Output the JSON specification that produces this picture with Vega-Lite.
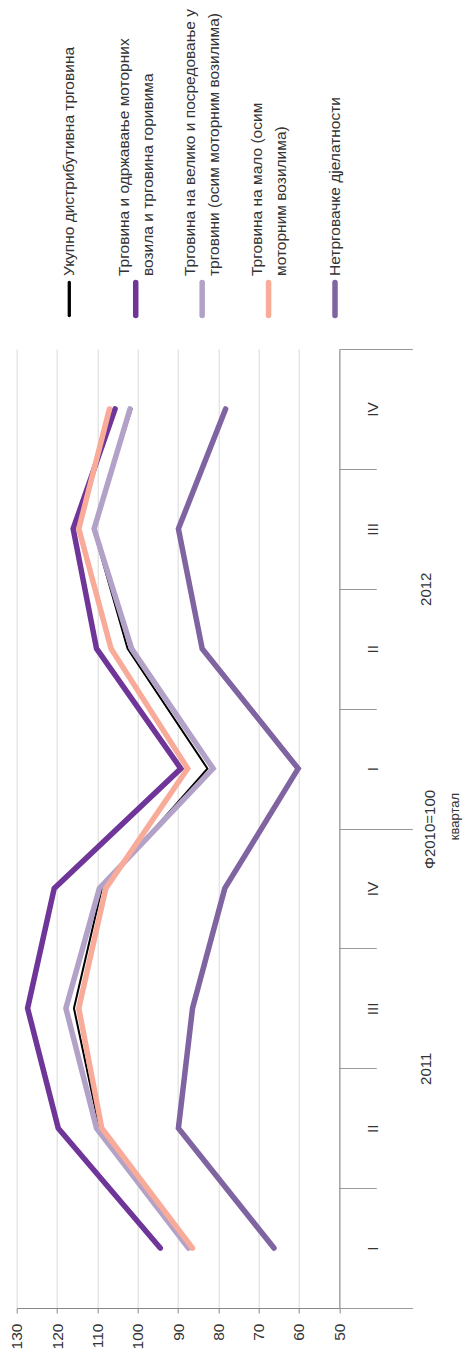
{
  "$schema": "https://vega.github.io/schema/vega-lite/v6.json",
  "autosize": {"type": "none"},
  "padding": {"left": 16.7, "top": 349, "right": 125.7, "bottom": 43},
  "background": "white",
  "width": 322.6,
  "height": 959,
  "config": {"view": {"stroke": null}, "font": "Liberation Sans"},
  "datasets": {
    "legend": [
      {"s": "Укупно дистрибутивна трговина", "lines": ["Укупно дистрибутивна трговина"]},
      {"s": "Трговина и одржавање моторних возила и трговина горивима", "lines": ["Трговина и одржавање моторних", "возила и трговина горивима"]},
      {"s": "Трговина на велико и посредовање у трговини (осим моторним возилима)", "lines": ["Трговина на велико и посредовање у", "трговини (осим моторним возилима)"]},
      {"s": "Трговина на мало (осим моторним возилима)", "lines": ["Трговина на мало (осим", "моторним возилима)"]},
      {"s": "Нетрговачке дјелатности", "lines": ["Нетрговачке дјелатности"]}
    ],
    "years": [{"year": "2011"}, {"year": "2012"}],
    "series": [
      {"s": "Укупно дистрибутивна трговина", "p": "2011 I", "v": 87.0},
      {"s": "Укупно дистрибутивна трговина", "p": "2011 II", "v": 109.5},
      {"s": "Укупно дистрибутивна трговина", "p": "2011 III", "v": 115.8},
      {"s": "Укупно дистрибутивна трговина", "p": "2011 IV", "v": 108.9},
      {"s": "Укупно дистрибутивна трговина", "p": "2012 I", "v": 82.7},
      {"s": "Укупно дистрибутивна трговина", "p": "2012 II", "v": 102.5},
      {"s": "Укупно дистрибутивна трговина", "p": "2012 III", "v": 111.0},
      {"s": "Укупно дистрибутивна трговина", "p": "2012 IV", "v": 101.5},
      {"s": "Трговина и одржавање моторних возила и трговина горивима", "p": "2011 I", "v": 94.4},
      {"s": "Трговина и одржавање моторних возила и трговина горивима", "p": "2011 II", "v": 119.7},
      {"s": "Трговина и одржавање моторних возила и трговина горивима", "p": "2011 III", "v": 127.3},
      {"s": "Трговина и одржавање моторних возила и трговина горивима", "p": "2011 IV", "v": 120.7},
      {"s": "Трговина и одржавање моторних возила и трговина горивима", "p": "2012 I", "v": 89.3},
      {"s": "Трговина и одржавање моторних возила и трговина горивима", "p": "2012 II", "v": 110.2},
      {"s": "Трговина и одржавање моторних возила и трговина горивима", "p": "2012 III", "v": 116.0},
      {"s": "Трговина и одржавање моторних возила и трговина горивима", "p": "2012 IV", "v": 105.6},
      {"s": "Трговина на велико и посредовање у трговини (осим моторним возилима)", "p": "2011 I", "v": 87.4},
      {"s": "Трговина на велико и посредовање у трговини (осим моторним возилима)", "p": "2011 II", "v": 110.2},
      {"s": "Трговина на велико и посредовање у трговини (осим моторним возилима)", "p": "2011 III", "v": 117.8},
      {"s": "Трговина на велико и посредовање у трговини (осим моторним возилима)", "p": "2011 IV", "v": 109.5},
      {"s": "Трговина на велико и посредовање у трговини (осим моторним возилима)", "p": "2012 I", "v": 81.3},
      {"s": "Трговина на велико и посредовање у трговини (осим моторним возилима)", "p": "2012 II", "v": 101.5},
      {"s": "Трговина на велико и посредовање у трговини (осим моторним возилима)", "p": "2012 III", "v": 110.8},
      {"s": "Трговина на велико и посредовање у трговини (осим моторним возилима)", "p": "2012 IV", "v": 101.9},
      {"s": "Трговина на мало (осим моторним возилима)", "p": "2011 I", "v": 86.4},
      {"s": "Трговина на мало (осим моторним возилима)", "p": "2011 II", "v": 108.9},
      {"s": "Трговина на мало (осим моторним возилима)", "p": "2011 III", "v": 114.6},
      {"s": "Трговина на мало (осим моторним возилима)", "p": "2011 IV", "v": 107.9},
      {"s": "Трговина на мало (осим моторним возилима)", "p": "2012 I", "v": 87.6},
      {"s": "Трговина на мало (осим моторним возилима)", "p": "2012 II", "v": 106.6},
      {"s": "Трговина на мало (осим моторним возилима)", "p": "2012 III", "v": 114.6},
      {"s": "Трговина на мало (осим моторним возилима)", "p": "2012 IV", "v": 107.0},
      {"s": "Нетрговачке дјелатности", "p": "2011 I", "v": 66.2},
      {"s": "Нетрговачке дјелатности", "p": "2011 II", "v": 89.9},
      {"s": "Нетрговачке дјелатности", "p": "2011 III", "v": 86.4},
      {"s": "Нетрговачке дјелатности", "p": "2011 IV", "v": 78.4},
      {"s": "Нетрговачке дјелатности", "p": "2012 I", "v": 60.2},
      {"s": "Нетрговачке дјелатности", "p": "2012 II", "v": 84.0},
      {"s": "Нетрговачке дјелатности", "p": "2012 III", "v": 89.9},
      {"s": "Нетрговачке дјелатности", "p": "2012 IV", "v": 78.2}
    ]
  },
  "layer": [
    {
      "data": {"name": "series"},
      "mark": {"type": "line", "strokeCap": "round", "strokeJoin": "miter"},
      "encoding": {
        "x": {
          "field": "v", "type": "quantitative",
          "scale": {"domain": [50, 130], "reverse": true, "nice": false, "zero": false},
          "axis": {
            "values": [50, 60, 70, 80, 90, 100, 110, 120, 130],
            "title": null,
            "grid": true, "gridColor": "#d9d9d9", "gridWidth": 1,
            "domainColor": "#888888", "tickColor": "#888888", "tickSize": 5,
            "labelAngle": 270, "labelAlign": "right", "labelBaseline": "middle",
            "labelPadding": 10, "labelFont": "Liberation Sans",
            "labelFontSize": 15.5, "labelColor": "#333333"
          }
        },
        "y": {
          "field": "p", "type": "nominal",
          "scale": {"type": "band", "paddingInner": 0, "paddingOuter": 0, "domain": ["2012 IV", "2012 III", "2012 II", "2012 I", "2011 IV", "2011 III", "2011 II", "2011 I"]},
          "axis": {
            "orient": "right",
            "tickBand": "extent",
            "tickSize": 37, "tickColor": "#999999",
            "domainColor": "#888888",
            "labelExpr": "split(datum.value, ' ')[1]",
            "labelAngle": 270, "labelAlign": "center", "labelBaseline": "middle",
            "labelPadding": -4.3,
            "labelFont": "Liberation Sans",
            "labelFontSize": 15.5, "labelColor": "#333333",
            "grid": false,
            "title": "Φ2010=100",
            "titleAngle": 270, "titleAlign": "center", "titleBaseline": "middle",
            "titleX": 89.7, "titleY": 480,
            "titleFont": "Liberation Sans",
            "titleFontSize": 15, "titleFontWeight": "normal", "titleColor": "#333333"
          }
        },
        "order": {"field": "p", "type": "ordinal"},
        "color": {"field": "s", "type": "nominal", "legend": null, "scale": {"domain": ["Укупно дистрибутивна трговина", "Трговина и одржавање моторних возила и трговина горивима", "Трговина на велико и посредовање у трговини (осим моторним возилима)", "Трговина на мало (осим моторним возилима)", "Нетрговачке дјелатности"], "range": ["#000000", "#6f3598", "#b3a2c8", "#f9ab9a", "#8064a2"]}},
        "strokeWidth": {"condition": {"test": "datum.s === 'Укупно дистрибутивна трговина'", "value": 2}, "value": 5.5}
      }
    },
    {
      "data": {"name": "years"},
      "mark": {"type": "point", "opacity": 0},
      "encoding": {
        "y": {
          "field": "year", "type": "nominal",
          "scale": {"type": "band", "paddingInner": 0, "paddingOuter": 0, "domain": ["2012", "2011"]},
          "axis": {
            "orient": "right",
            "domain": false,
            "tickBand": "extent",
            "tickSize": 73, "tickColor": "#999999",
            "labelAngle": 270, "labelAlign": "center", "labelBaseline": "middle",
            "labelPadding": 13.2,
            "labelFont": "Liberation Sans",
            "labelFontSize": 15, "labelColor": "#333333",
            "grid": false,
            "title": "квартал",
            "titleAngle": 270, "titleAlign": "center", "titleBaseline": "middle",
            "titleX": 114.7, "titleY": 467,
            "titleFont": "Liberation Sans",
            "titleFontSize": 13, "titleFontWeight": "normal", "titleColor": "#333333"
          }
        }
      }
    },
    {
      "data": {"name": "legend"},
      "mark": {"type": "rule", "strokeCap": "round", "y": -66.5, "y2": -33.5},
      "encoding": {
        "x": {"field": "s", "type": "nominal", "scale": {"type": "point", "padding": 0, "range": [52.6, 318.3], "domain": ["Укупно дистрибутивна трговина", "Трговина и одржавање моторних возила и трговина горивима", "Трговина на велико и посредовање у трговини (осим моторним возилима)", "Трговина на мало (осим моторним возилима)", "Нетрговачке дјелатности"]}, "axis": null},
        "color": {"field": "s", "type": "nominal", "legend": null},
        "strokeWidth": {"condition": {"test": "datum.s === 'Укупно дистрибутивна трговина'", "value": 3.3}, "value": 5.5}
      }
    },
    {
      "data": {"name": "legend"},
      "transform": [{"filter": "length(datum.lines) == 1"}],
      "mark": {"type": "text", "angle": 270, "align": "left", "baseline": "middle", "fontSize": 15.5, "lineHeight": 24, "color": "#333333", "y": -73},
      "encoding": {
        "x": {"field": "s", "type": "nominal", "scale": {"type": "point", "padding": 0, "range": [52.6, 318.3], "domain": ["Укупно дистрибутивна трговина", "Трговина и одржавање моторних возила и трговина горивима", "Трговина на велико и посредовање у трговини (осим моторним возилима)", "Трговина на мало (осим моторним возилима)", "Нетрговачке дјелатности"]}, "axis": null},
        "text": {"field": "lines"}
      }
    },
    {
      "data": {"name": "legend"},
      "transform": [{"filter": "length(datum.lines) > 1"}],
      "mark": {"type": "text", "angle": 270, "align": "left", "baseline": "middle", "fontSize": 15.5, "lineHeight": 24, "dy": -12, "color": "#333333", "y": -73},
      "encoding": {
        "x": {"field": "s", "type": "nominal", "scale": {"type": "point", "padding": 0, "range": [52.6, 318.3], "domain": ["Укупно дистрибутивна трговина", "Трговина и одржавање моторних возила и трговина горивима", "Трговина на велико и посредовање у трговини (осим моторним возилима)", "Трговина на мало (осим моторним возилима)", "Нетрговачке дјелатности"]}, "axis": null},
        "text": {"field": "lines"}
      }
    }
  ],
  "resolve": {
    "scale": {"y": "independent", "x": "independent"},
    "axis": {"y": "independent", "x": "independent"}
  }
}
